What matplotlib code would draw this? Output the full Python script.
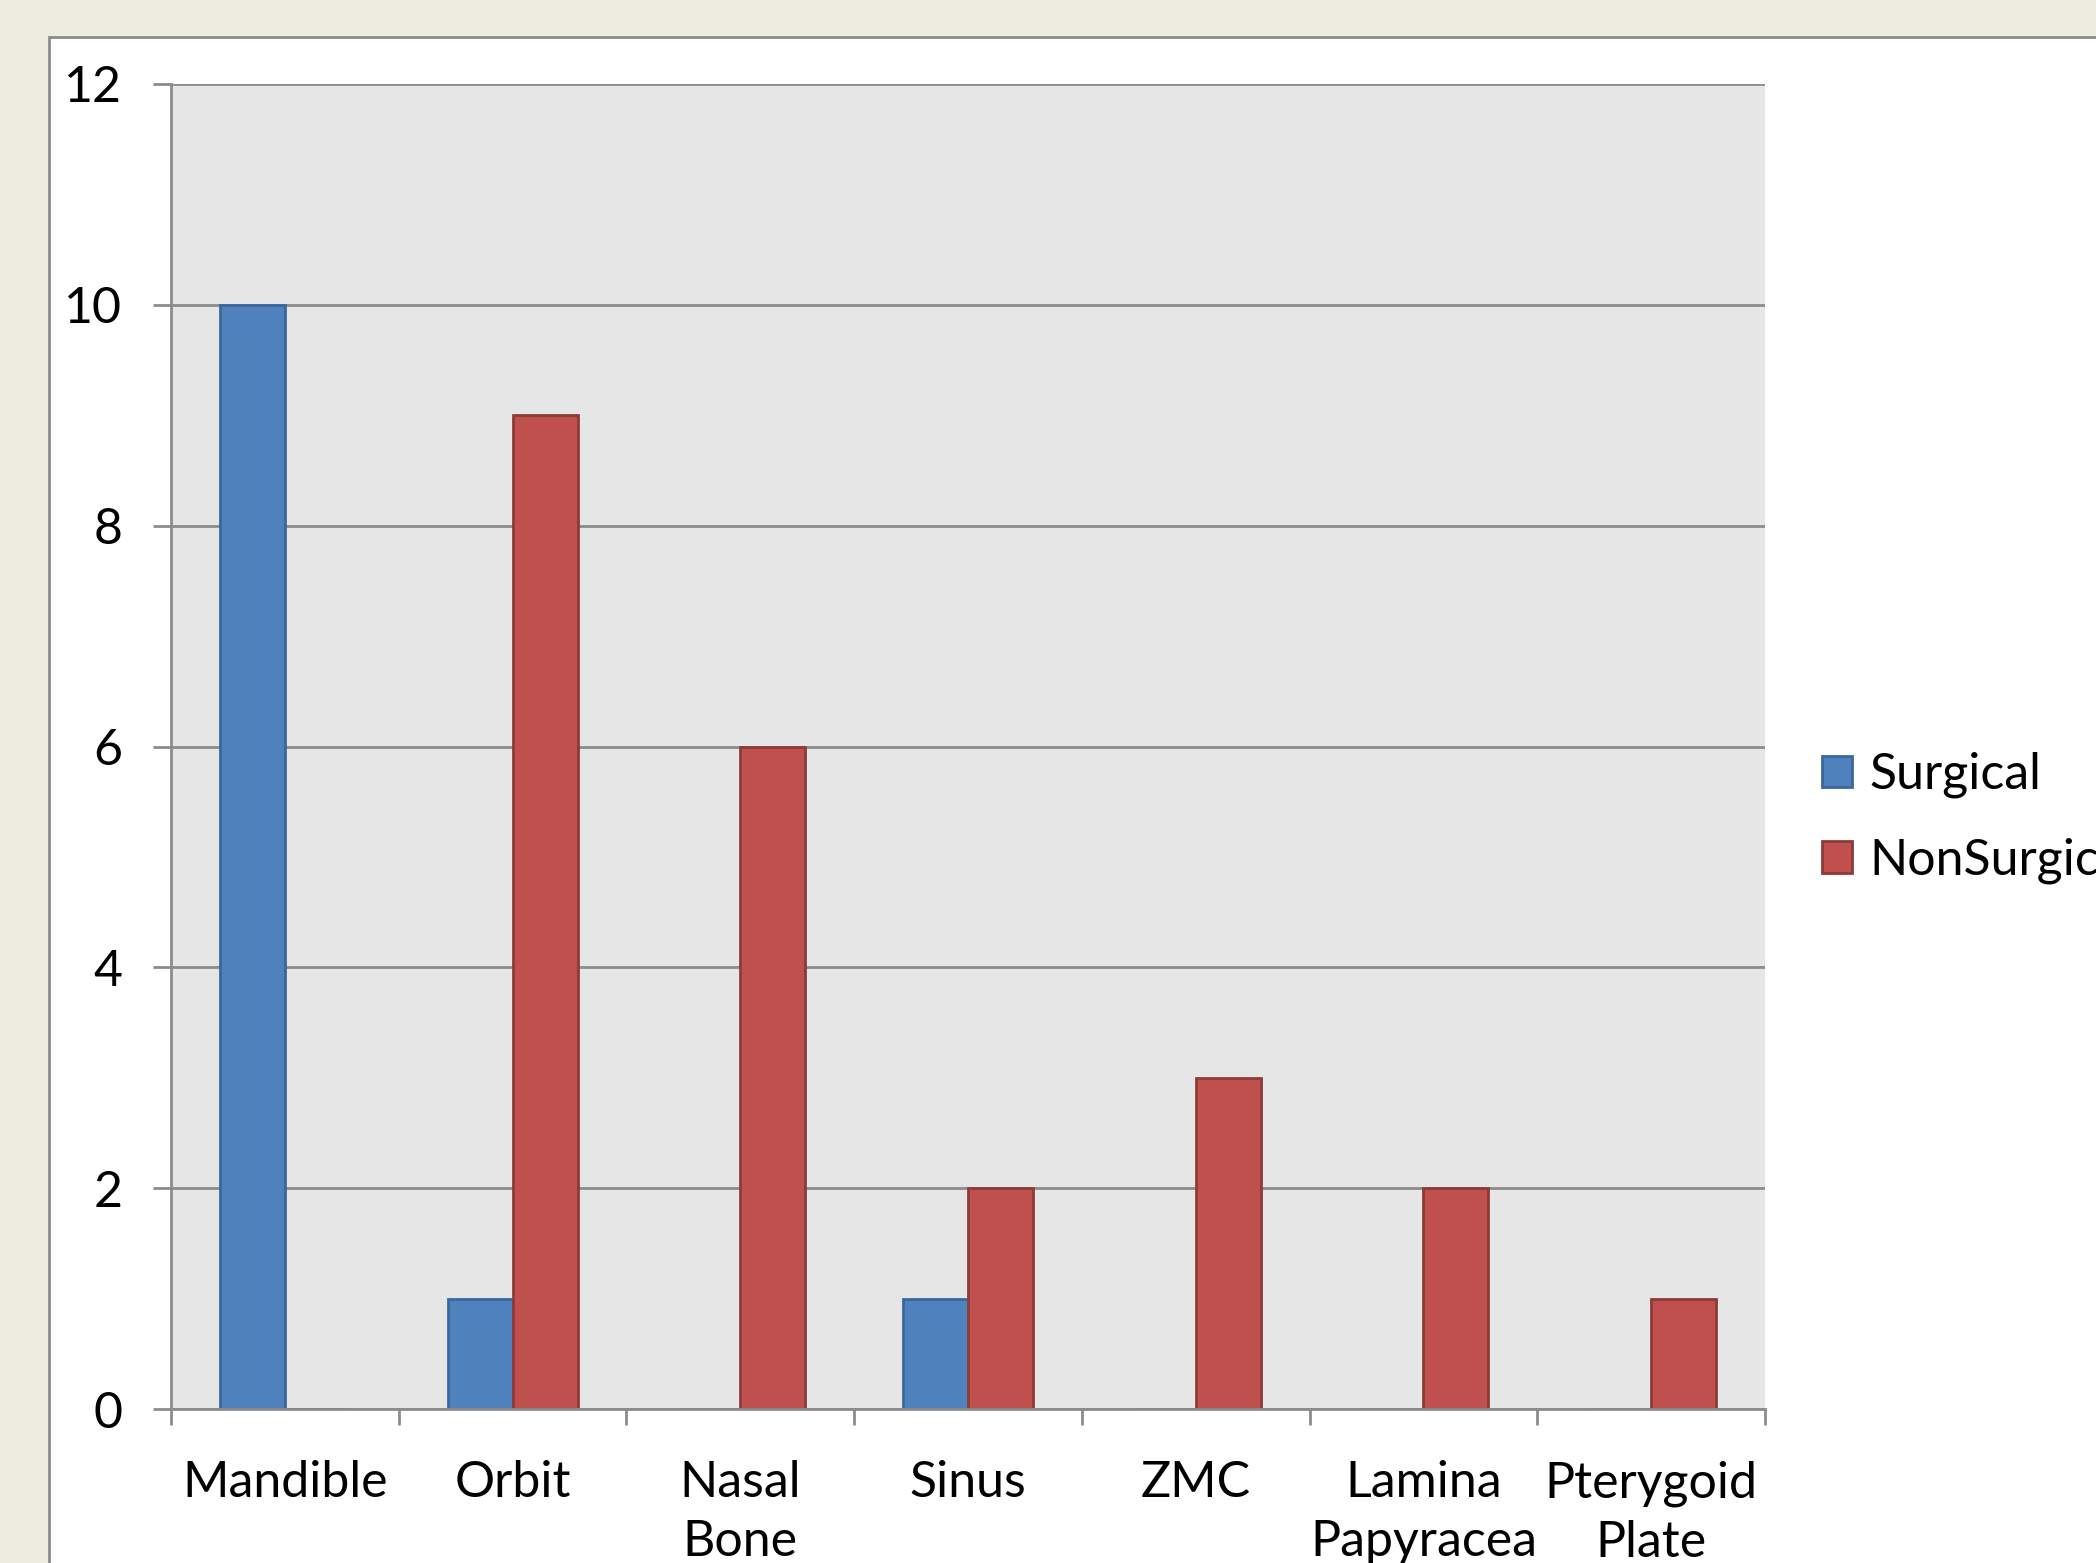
import matplotlib.pyplot as plt
from matplotlib.patches import Rectangle, Patch
import numpy as np

categories = ['Mandible', 'Orbit', 'Nasal\nBone', 'Sinus', 'ZMC',
              'Lamina\nPapyracea', 'Pterygoid\nPlate']
surgical = [10, 1, 0, 1, 0, 0, 0]
nonsurgical = [0, 9, 6, 2, 3, 2, 1]
yticks = [0, 2, 4, 6, 8, 10, 12]

W, H = 2096, 1563
plt.rcParams['font.family'] = ['Lato', 'DejaVu Sans']
fs = 36

fig = plt.figure(figsize=(W / 100, H / 100), dpi=100)
fig.patch.set_facecolor('#eeebe0')

# white chart panel with grey border (runs off right/bottom)
fig.patches.append(Rectangle((49 / W, -0.05), 1.1, 1 - 37 / H + 0.05,
                             transform=fig.transFigure, facecolor='white',
                             edgecolor='#8c8c8c', linewidth=2, zorder=-10))

ax = fig.add_axes([171 / W, 1 - 1409 / H, (1765 - 171) / W, (1409 - 84) / H])
ax.set_facecolor('#e6e6e6')

x = np.arange(len(categories))
w = 1 / 3.5
ax.bar(x - w / 2, surgical, w, color='#4f81bd', edgecolor='#3a679e',
       linewidth=2, label='Surgical', zorder=2)
ax.bar(x + w / 2, nonsurgical, w, color='#c0504d', edgecolor='#8e3b38',
       linewidth=2, label='NonSurgical', zorder=2)

ax.set_xlim(-0.5, len(categories) - 0.5)
ax.set_ylim(0, 12)
ax.set_yticks(yticks)
ax.set_yticklabels([str(v) for v in yticks], fontsize=fs)
ax.yaxis.grid(True, color='#8c8c8c', linewidth=2)
ax.set_axisbelow(True)
ax.tick_params(axis='y', length=13, width=2, color='#8c8c8c', pad=22)

ax.set_xticks(np.arange(-0.5, len(categories), 1))
ax.set_xticklabels([])
ax.set_xticks(x, minor=True)
ax.set_xticklabels(categories, minor=True, fontsize=fs, linespacing=1.35)
ax.tick_params(axis='x', which='major', length=11.5, width=2, color='#8c8c8c')
ax.tick_params(axis='x', which='minor', length=0, pad=37)

for s in ['top', 'right']:
    ax.spines[s].set_visible(False)
for s in ['left', 'bottom']:
    ax.spines[s].set_color('#8c8c8c')
    ax.spines[s].set_linewidth(2)
    ax.spines[s].set_zorder(3)

handles = [Patch(facecolor='#4f81bd', edgecolor='#3a679e', linewidth=2),
           Patch(facecolor='#c0504d', edgecolor='#8e3b38', linewidth=2)]
fig.legend(handles, ['Surgical', 'NonSurgical'], loc='center left',
           bbox_to_anchor=(1822 / W, 1 - 818 / H), frameon=False,
           fontsize=fs, handlelength=0.6, handleheight=0.6,
           handletextpad=0.35, labelspacing=0.78, borderpad=0,
           borderaxespad=0)

fig.savefig('out.png', dpi=100)
